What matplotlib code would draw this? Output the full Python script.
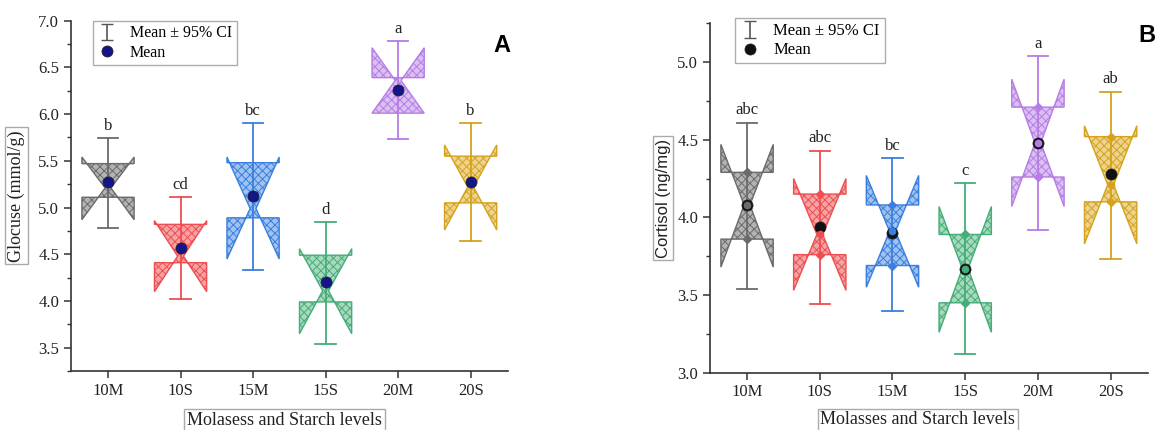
import matplotlib.pyplot as plt
from matplotlib.patches import Polygon
from matplotlib.ticker import MultipleLocator, FormatStrFormatter

groups = ['10M', '10S', '15M', '15S', '20M', '20S']
edge_colors = ['#6b6b6b', '#ee4e52', '#3a7fdf', '#45ad78', '#b67de6', '#d6a21c']
face_colors = ['#b3b3b3', '#f6a3a4', '#9fc2f1', '#a6d9bd', '#dcc0f4', '#edd48e']

# panel A - glucose
glu_mean = [5.27, 4.57, 5.12, 4.20, 6.26, 5.27]
glu_ci_lo = [4.78, 4.02, 4.33, 3.54, 5.73, 4.64]
glu_ci_hi = [5.74, 5.11, 5.90, 4.84, 6.78, 5.90]
glu_q1 = [5.11, 4.41, 4.89, 3.99, 6.01, 5.05]
glu_q3 = [5.47, 4.82, 5.48, 4.49, 6.39, 5.55]
glu_median = [5.21, 4.48, 4.99, 4.11, 6.36, 5.22]
glu_notch_lo = [4.87, 4.10, 4.45, 3.65, 6.01, 4.76]
glu_notch_hi = [5.54, 4.86, 5.54, 4.56, 6.71, 5.67]
glu_letters = ['b', 'cd', 'bc', 'd', 'a', 'b']

# panel B - cortisol
cor_mean = [4.08, 3.94, 3.90, 3.67, 4.48, 4.28]
cor_ci_lo = [3.54, 3.44, 3.40, 3.12, 3.92, 3.73]
cor_ci_hi = [4.61, 4.43, 4.38, 4.22, 5.04, 4.81]
cor_q1 = [3.86, 3.76, 3.69, 3.45, 4.26, 4.10]
cor_q3 = [4.29, 4.15, 4.08, 3.89, 4.71, 4.52]
cor_median = [4.08, 3.89, 3.91, 3.67, 4.48, 4.21]
cor_notch_lo = [3.68, 3.53, 3.55, 3.26, 4.07, 3.83]
cor_notch_hi = [4.47, 4.25, 4.27, 4.07, 4.89, 4.59]
cor_letters = ['abc', 'abc', 'bc', 'c', 'a', 'ab']

plt.rcParams['font.family'] = ['Liberation Serif', 'DejaVu Serif']
plt.rcParams['hatch.linewidth'] = 0.7

HW = 0.36   # box half width
NW = 0.04   # notch waist half width


def notched_box(ax, x, q1, q3, med, nlo, nhi, ec, fc):
    pts = [(x - HW, q3), (x - HW, nhi), (x - NW, med), (x - HW, nlo),
           (x - HW, q1), (x + HW, q1), (x + HW, nlo), (x + NW, med),
           (x + HW, nhi), (x + HW, q3)]
    ax.add_patch(Polygon(pts, closed=True, facecolor=fc, edgecolor=ec,
                         hatch='xxxx', lw=1.0, zorder=2))


def draw_panel(ax, mean, lo, hi, q1, q3, med, nlo, nhi, letters, mean_color, dots):
    for i in range(len(groups)):
        x = i + 1
        ec = edge_colors[i]
        notched_box(ax, x, q1[i], q3[i], med[i], nlo[i], nhi[i], ec, face_colors[i])
        ax.plot([x, x], [lo[i], hi[i]], color=ec, lw=1.3, zorder=3)
        ax.plot([x - 0.14, x + 0.14], [hi[i], hi[i]], color=ec, lw=1.3, zorder=3)
        ax.plot([x - 0.14, x + 0.14], [lo[i], lo[i]], color=ec, lw=1.3, zorder=3)
        if dots:
            ax.plot([x, x], [q1[i], q3[i]], 'D', color=ec, ms=4.5, ls='none', zorder=4)
        ax.plot(x, mean[i], 'o', color=mean_color, mec='#222222', mew=0.5, ms=8, zorder=5)
        if dots:
            ax.plot(x, med[i], 'o', color=ec, ms=4.5, zorder=6)
        ax.annotate(letters[i], (x, hi[i]), xytext=(0, 3), textcoords='offset points',
                    ha='center', va='bottom', fontsize=12, color='#222222')

    ci = ax.errorbar([-5], [0], yerr=[1], fmt='none', ecolor='#555555', capsize=4,
                     elinewidth=1.2)
    mk, = ax.plot([], [], 'o', color=mean_color, mec='#222222', mew=0.5, ms=8, ls='none')

    ax.set_xlim(0.49, 6.51)
    ax.set_xticks(range(1, len(groups) + 1))
    ax.set_xticklabels(groups)
    for side in ['top', 'right']:
        ax.spines[side].set_visible(False)
    for side in ['left', 'bottom']:
        ax.spines[side].set_color('#333333')
        ax.spines[side].set_linewidth(1.2)
    ax.yaxis.set_major_locator(MultipleLocator(0.5))
    ax.yaxis.set_minor_locator(MultipleLocator(0.25))
    ax.yaxis.set_major_formatter(FormatStrFormatter('%.1f'))
    ax.tick_params(direction='out', length=5, width=1.1, color='#333333', labelsize=12,
                   labelcolor='#222222')
    ax.tick_params(which='minor', direction='out', length=3, width=1.0, color='#333333')
    return [ci, mk]


fig = plt.figure(figsize=(11.55, 4.30), dpi=100)

axA = fig.add_axes([0.0615, 0.137, 0.378, 0.815])
hA = draw_panel(axA, glu_mean, glu_ci_lo, glu_ci_hi, glu_q1, glu_q3, glu_median,
                glu_notch_lo, glu_notch_hi, glu_letters, '#15158a', False)
axA.set_ylim(3.25, 7.0)
axA.legend(hA, ['Mean \u00b1 95% CI', 'Mean'], loc='upper left', bbox_to_anchor=(0.05, 1.0),
           fontsize=11.5, frameon=True, fancybox=False, edgecolor='#999999',
           borderaxespad=0, handlelength=1.2, borderpad=0.3, labelspacing=0.2)
axA.set_ylabel('Glocuse (mmol/g)', fontsize=13, color='#222222',
               bbox=dict(boxstyle='square,pad=0.15', fc='white', ec='#aaaaaa'))
axA.yaxis.set_label_coords(-0.105, 0.5)
axA.set_xlabel('Molasess and Starch levels', fontsize=13, color='#222222', va='center',
               bbox=dict(boxstyle='square,pad=0.15', fc='white', ec='#aaaaaa'))
axA.xaxis.set_label_coords(0.489, -0.14)

axB = fig.add_axes([0.6147, 0.1333, 0.379, 0.8126])
hB = draw_panel(axB, cor_mean, cor_ci_lo, cor_ci_hi, cor_q1, cor_q3, cor_median,
                cor_notch_lo, cor_notch_hi, cor_letters, '#111111', True)
axB.set_ylim(3.0, 5.25)
axB.legend(hB, ['Mean \u00b1 95% CI', 'Mean'], loc='upper left', bbox_to_anchor=(0.057, 1.015),
           fontsize=12, frameon=True, fancybox=False, edgecolor='#999999',
           borderaxespad=0, handlelength=1.2, borderpad=0.3, labelspacing=0.2)
axB.set_ylabel('Cortisol (ng/mg)', fontsize=12, color='#222222',
               family=['Liberation Sans', 'DejaVu Sans'],
               bbox=dict(boxstyle='square,pad=0.15', fc='white', ec='#aaaaaa'))
axB.yaxis.set_label_coords(-0.09, 0.5)
axB.set_xlabel('Molasses and Starch levels', fontsize=13, color='#222222', va='center',
               bbox=dict(boxstyle='square,pad=0.15', fc='white', ec='#aaaaaa'))
axB.xaxis.set_label_coords(0.475, -0.135)

fig.text(493 / 1155, 1 - 46 / 430, 'A', fontsize=17, fontweight='bold',
         family=['Liberation Sans', 'DejaVu Sans'], va='center', ha='left')
fig.text(1138 / 1155, 1 - 36 / 430, 'B', fontsize=17, fontweight='bold',
         family=['Liberation Sans', 'DejaVu Sans'], va='center', ha='left')

fig.savefig('out.png', dpi=100)
